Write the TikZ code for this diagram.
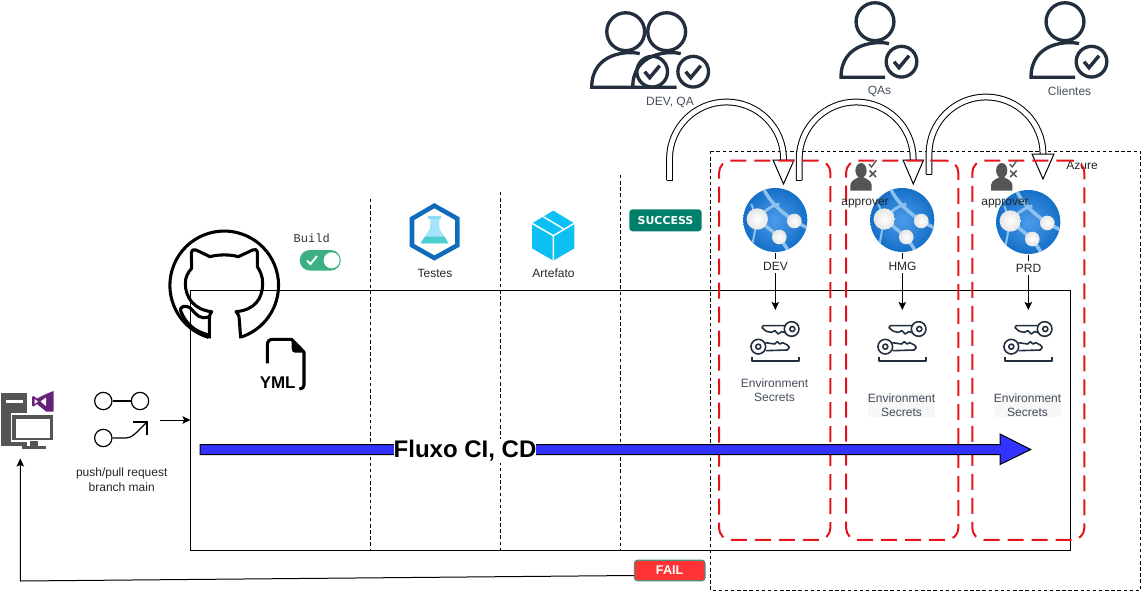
\documentclass[tikz,border=0pt]{standalone}
\usepackage{fontspec}
\setmainfont{Liberation Sans}
\newfontfamily\monofnt{Liberation Mono}
\newfontfamily\badgefnt{DejaVu Sans}
\usetikzlibrary{arrows.meta}
\definecolor{ink}{HTML}{232F3E}
\definecolor{iconGrey}{HTML}{555555}
\definecolor{flowBlue}{HTML}{3333FF}
\definecolor{redDash}{HTML}{E3141C}
\definecolor{globeIn}{HTML}{4C9BEA}
\definecolor{globeOut}{HTML}{1570C8}
\definecolor{globeLine}{HTML}{8DC2EE}
\definecolor{hexBlue}{HTML}{0F6CBD}
\definecolor{cubeBlue}{HTML}{0DC0F4}
\definecolor{toggleGreen}{HTML}{3CB083}
\definecolor{okGreen}{HTML}{00806A}
\definecolor{failRed}{HTML}{FF3333}
\definecolor{failEdge}{HTML}{4F8F7A}
\definecolor{vsPurple}{HTML}{68217A}
\tikzset{
    lbl/.style={
           inner sep=0pt,
           text=black!85,
           align=center,
           font=\fontsize{9}{10.7}\selectfont,
           },
    inklbl/.style={lbl, text=ink!85},
    redbox/.style={
           rectangle,
           rounded corners=9pt,
           draw=redDash, line width=1.5pt,
           dash pattern=on 12pt off 6pt,
           minimum width=#1,
           minimum height=284.5pt,
           inner sep=0pt,
           },
    stagedash/.style={draw=black, line width=.75pt, dash pattern=on 2.6pt off 2pt},
    blockarc/.style={draw=black, line width=.75pt, double=white, double distance=3.6pt},
    blockcap/.style={draw=black, fill=white, line width=.75pt, line join=miter},
    badge/.style={
           rectangle,
           rounded corners=2.5pt,
           text=white,
           inner sep=0pt,
           },
    % person with a tick in a circle, origin is the centre of the head
    usercheck/.pic={
           \draw[-, ink, line width=2.5pt] (0,0) circle[radius=14.2pt];
           \draw[-, ink, line width=2.5pt, line cap=butt] (14,22) .. controls (4,19) and (-34,20) .. (-34,55.6) -- (10,55.6);
           \draw[-, ink, line width=2.5pt, fill=white] (26.5,40) circle[radius=11.5pt];
           \draw[-, ink, line width=2.6pt] (19,40) -- (24,46) -- (34,34);
    },
    % small grey approver figure
    approverfig/.pic={
           \fill[iconGrey] (0,-6.5) ellipse[x radius=5.6, y radius=7.5];
           \fill[iconGrey] (-10.7,13.7) -- (-10.7,8) .. controls (-10,3) and (-5,2) .. (-2,0) -- (2,0) .. controls (5,2) and (10,3) .. (10.7,8) -- (10.7,13.7) -- cycle;
           \draw[-, iconGrey, line width=1pt] (8,-13) -- (10.5,-10) -- (15.5,-17);
           \draw[-, iconGrey, line width=1.1pt] (8.5,-6.5) -- (15,0) (15,-6.5) -- (8.5,0);
    },
    % azure web app globe, origin is the centre
    webglobe/.pic={
           \shade[inner color=globeIn, outer color=globeOut] (0,0) circle[radius=24pt];
           \begin{scope}
           \clip (0,0) circle[radius=24pt];
           \draw[-, globeLine, line width=2.6pt] (-12,-32) .. controls (-6,-18) and (6,-8) .. (19,1) -- (34,9);
           \draw[-, globeLine, line width=2.6pt] (-18,-1) -- (4,17) -- (14,32);
           \draw[-, globeLine, line width=2.2pt] (-18,-1) .. controls (-10,-10) and (-4,-14) .. (4,-16);
           \draw[-, globeLine, line width=1.5pt] (-24,-16) -- (-18,-1) -- (-24,30);
           \end{scope}
           \shade[inner color=white, outer color=black!10] (-18,-1) circle[radius=8pt];
           \shade[inner color=white, outer color=black!10] (19,1) circle[radius=5.5pt];
           \shade[inner color=white, outer color=black!10] (4,17) circle[radius=5.5pt];
    },
    % pair of keys on a tray, origin is above the icon
    keytray/.pic={
           \begin{scope}[x=.25pt, y=-.25pt, ink, line width=1.2pt, line join=round]
           \draw[-] (49,-33) circle[radius=5.5pt];
           \draw[-] (51,-33) circle[radius=1.9pt];
           \draw[-] (30,-43) -- (-36,-43) -- (-40,-37) -- (-27,-26) -- (-12,-23) -- (-1,-28) -- (9,-18) -- (19,-25) -- (31,-22);
           \draw[-] (-51,20) circle[radius=5.5pt];
           \draw[-] (-51,20) circle[radius=1.9pt];
           \draw[-] (-30,8) -- (-2,12) -- (6,5) -- (14,12) -- (22,8) -- (36,15) -- (42,22) -- (36,30) -- (-29,32);
           \draw[-, line width=1.4pt] (-71,50) -- (-71,62) -- (72,62) -- (72,50);
           \end{scope}
    },
}

\begin{document}
\begin{tikzpicture}[x=.75pt,y=-.75pt,line width=.75pt,->,>={Stealth[length=6pt,width=5.6pt,inset=1.2pt]}]
 \useasboundingbox (0,0) rectangle (1142,592);

 % Azure area and the pipeline box
 \draw[-, stagedash, line width=.75pt] (710.5,151) rectangle (1140.5,590.5);
 \draw[-, black, line width=.75pt] (190.5,290) rectangle (1070.5,550);
 \node[lbl] (AZURE) at (1082,165) {Azure};

 % stage separators
 \draw[-, stagedash] (370.5,199) -- (370.5,550);
 \draw[-, stagedash] (500.5,192) -- (500.5,550);
 \draw[-, stagedash] (620.5,175) -- (620.5,550);

 % approval arcs
 \coordinate (ARCDEVA) at (669.5,180);
 \coordinate (ARCHMGA) at (799.2,180);
 \coordinate (ARCPRDA) at (929,174);
 \draw[-, blockarc] (ARCDEVA) -- ++(0,-21) arc[start angle=180, end angle=360, radius=57] -- ++(0,4);
 \draw[-, blockarc] (ARCHMGA) -- ++(0,-21) arc[start angle=180, end angle=360, radius=57] -- ++(0,4);
 \draw[-, blockarc] (ARCPRDA) -- ++(0,-20) arc[start angle=180, end angle=360, radius=57] -- ++(0,3);
 \draw[-, line width=.75pt] (666.5,180) -- (672.5,180);
 \draw[-, line width=.75pt] (796.2,180) -- (802.2,180);
 \draw[-, line width=.75pt] (926,174) -- (932,174);
 \draw[-, blockcap] (773,160) -- (794,160) -- (783.5,184) -- cycle;
 \draw[-, blockcap] (903,160) -- (923.5,160) -- (913.3,184) -- cycle;
 \draw[-, blockcap] (1032,154) -- (1054,154) -- (1043,179) -- cycle;

 % environment groups
 \node[redbox=83.5pt] (BOXDEV) at (774.7,350.3) {};
 \node[redbox=84.2pt] (BOXHMG) at (902.2,350.3) {};
 \node[redbox=84pt] (BOXPRD) at (1028.3,350.3) {};

 % web apps
 \node[circle, minimum size=48pt, inner sep=0pt] (WEBDEV) at (775.3,220) {};
 \node[circle, minimum size=48pt, inner sep=0pt] (WEBHMG) at (902.3,220) {};
 \node[circle, minimum size=48pt, inner sep=0pt] (WEBPRD) at (1028.3,222) {};
 \pic at (WEBDEV) {webglobe};
 \pic at (WEBHMG) {webglobe};
 \pic at (WEBPRD) {webglobe};

 % key icons
 \coordinate (KEYDEV) at (775.3,310);
 \coordinate (KEYHMG) at (902.3,310);
 \coordinate (KEYPRD) at (1028.3,310);
 \pic at (775.3,340) {keytray};
 \pic at (902.3,340) {keytray};
 \pic at (1028.3,340) {keytray};

 \path
 (WEBDEV)	edge	(KEYDEV)
 (WEBHMG)	edge	(KEYHMG)
 (WEBPRD)	edge	(KEYPRD)
 ;
 \node[lbl, fill=white, inner ysep=2pt, inner xsep=1pt] (LBLDEV) at (775.5,266) {DEV};
 \node[lbl, fill=white, inner ysep=2pt, inner xsep=1pt] (LBLHMG) at (902.5,266) {HMG};
 \node[lbl, fill=white, inner ysep=2pt, inner xsep=1pt] (LBLPRD) at (1028.5,268) {PRD};

 \node[inklbl] (SECDEV) at (774.5,390.5) {Environment\\Secrets};
 \node[inklbl, fill=black!3] (SECHMG) at (901.5,405) {Environment\\Secrets};
 \node[inklbl, fill=black!3] (SECPRD) at (1027.5,405) {Environment\\Secrets};

 % approvers
 \pic at (861,177) {approverfig};
 \pic at (1001.7,177) {approverfig};
 \node[lbl] (APPHMG) at (865,203.5) {approver};
 \node[lbl] (APPPRD) at (1005,203.5) {approver};

 % people on top
 \pic at (625.7,31.7) {usercheck};
 \pic at (666.7,31.7) {usercheck};
 \pic at (875,21.7) {usercheck};
 \pic at (1065,21.7) {usercheck};
 \node[inklbl] (PPLDEV) at (670,102) {DEV, QA};
 \node[inklbl] (PPLQA) at (879.5,91) {QAs};
 \node[inklbl] (PPLCLI) at (1069.5,91) {Clientes};

 % main flow arrow
 \coordinate (FLUXOA) at (200,449.5);
 \coordinate (FLUXOB) at (1030.7,449.5);
 \draw[-, draw=black, fill=flowBlue, line width=.75pt, line join=miter]
  (FLUXOA) -- ++(0,-5) -- (1000,444.5) -- (1000,434) -- (FLUXOB) -- (1000,464.5) -- (1000,454.5) -- (200,454.5) -- cycle;
 \node[fill=white, inner xsep=0pt, inner ysep=1pt, font=\fontsize{18}{20}\selectfont\bfseries] (FLUXO) at (465,451) {Fluxo CI, CD};

 % github logo and yml file
 \begin{scope}[shift={(0,200)}, x=.25pt, y=-.25pt, line width=2.3pt, line join=round]
 \draw[-] (625,412) arc[start angle=107, delta angle=324, radius=163];
 \draw[-] (722,415) -- (718,360) .. controls (718,345) and (712,340) .. (708,335)
  .. controls (765,330) and (788,295) .. (788,250) .. controls (788,228) and (780,212) .. (772,200)
  -- (772,155) .. controls (772,148) and (765,147) .. (758,150) -- (715,170)
  .. controls (690,163) and (655,163) .. (630,170) -- (588,150) .. controls (580,147) and (574,150) .. (574,158)
  -- (575,205) .. controls (563,218) and (556,232) .. (556,250) .. controls (556,295) and (585,330) .. (635,335)
  .. controls (628,345) and (628,350) .. (628,360) -- (628,415);
 \draw[-] (628,350) .. controls (600,360) and (590,345) .. (575,328) .. controls (560,312) and (535,318) .. (543,335)
  .. controls (555,365) and (580,395) .. (628,405);
 \draw[-] (802,490) -- (802,435) .. controls (802,424) and (808,418) .. (818,418) -- (875,418) -- (912,456) -- (912,555) .. controls (912,563) and (907,567) .. (898,567);
 \fill[black] (875,418) -- (912,458) -- (885,458) .. controls (878,458) and (875,452) .. (875,445) -- cycle;
 \end{scope}
 \node[inner sep=0pt, font=\fontsize{12.7}{14}\selectfont\bfseries] (YML) at (277.7,383) {YML};

 % build toggle
 \node[lbl, text=black!80, font=\fontsize{9}{10}\selectfont\monofnt] (BUILD) at (311.7,238) {Build};
 \fill[toggleGreen] (310,250) -- (330.5,250) arc[start angle=270, end angle=450, radius=10.3] -- (310,270.6) arc[start angle=90, end angle=270, radius=10.3] -- cycle;
 \fill[white] (331.7,260.3) circle[radius=6pt];
 \draw[-, white, line width=1.4pt] (307,260.5) -- (310.5,264) -- (317,256);

 % testes and artefato icons
 \begin{scope}[shift={(380,190)}, x=.25pt, y=-.25pt, line join=miter]
 \draw[-, draw=hexBlue, line width=3.4pt] (163,47) -- (232,86) -- (232,166) -- (163,204) -- (96,166) -- (96,86) -- cycle;
 \fill[cyan!35!white] (152,80) -- (178,80) -- (178,115) -- (205,160) -- (122,160) -- (150,115) -- cycle;
 \fill[teal!55!cyan!70!white] (134,140) -- (194,140) -- (205,160) -- (122,160) -- cycle;
 \fill[cyan!45!white] (145,78) rectangle (184,88);
 \fill[cubeBlue] (520,62) -- (583,100) -- (583,175) -- (520,212) -- (456,175) -- (456,100) -- cycle;
 \draw[-, white, line width=1.1pt] (456,100) -- (520,137) -- (583,100) (520,137) -- (520,212) (490,80) -- (553,118);
 \end{scope}
 \node[lbl] (TESTES) at (435,273.5) {Testes};
 \node[lbl] (ARTEFATO) at (553.5,273.5) {Artefato};

 % status badges
 \node[badge, fill=okGreen, minimum width=54.3pt, minimum height=16.5pt,
  font=\fontsize{8.2}{9}\selectfont\badgefnt\bfseries] (SUCCESS) at (665.5,220.3) {SUCCESS};
 \node[badge, fill=failRed, draw=failEdge, line width=.9pt, minimum width=53pt, minimum height=15.5pt,
  font=\fontsize{9.5}{11}\selectfont\bfseries] (FAIL) at (669.7,570.5) {FAIL};

 % workstation
 \fill[iconGrey] (1,393) rectangle (27,446);
 \fill[white] (6,400) rectangle (23,402.5);
 \draw[-, draw=white, fill=iconGrey, line width=.9pt] (11.5,414) rectangle (54,441);
 \fill[white] (16,418.5) rectangle (50,437.5);
 \fill[iconGrey] (30,441) rectangle (38,446);
 \fill[iconGrey] (22,446) rectangle (46,449);
 \fill[vsPurple] (46,394) -- (53.5,391) -- (53.5,411.5) -- (46,411.5) -- (37,404) -- (33.5,406.5) -- (32,405.5) -- (32,397) -- (33.5,396) -- (37,398.5) -- cycle;
 \fill[white] (46,397.5) -- (46,406) -- (40.5,401.5) -- cycle;
 \fill[white] (34.5,399) -- (38,401.5) -- (34.5,404) -- cycle;
 \node[inner sep=0pt, minimum width=54pt, minimum height=57pt] (PC) at (27,420) {};

 % git icon
 \node[circle, draw=black, line width=.9pt, minimum size=13pt, inner sep=0pt] (GITA) at (103.3,401) {};
 \node[circle, draw=black, line width=.9pt, minimum size=13pt, inner sep=0pt] (GITB) at (140,401) {};
 \node[circle, draw=black, line width=.9pt, minimum size=13pt, inner sep=0pt] (GITC) at (103.3,438) {};
 \coordinate (GITD) at (147,422);
 \draw[-, line width=.9pt] (GITA) -- (GITB);
 \draw[-, line width=.9pt] (GITC) -- (126,438) .. controls (132,438) and (136,433) .. (GITD);
 \draw[-, line width=.9pt] (133,422) -- (GITD) -- (147,435);
 \node[lbl] (PUSH) at (121.7,479.8) {push/pull request\\branch main};

 % connectors on the left
 \coordinate (PUSHEND) at (160,420);
 \coordinate (BOXIN) at (190.5,420);
 \coordinate (FAILTURN) at (20.3,581);
 \path (PUSHEND) edge (BOXIN);
 \draw[line width=.75pt] (FAIL.west |- 0,575.5) -- (FAILTURN) -- (PC.south -| FAILTURN);
\end{tikzpicture}
\end{document}
